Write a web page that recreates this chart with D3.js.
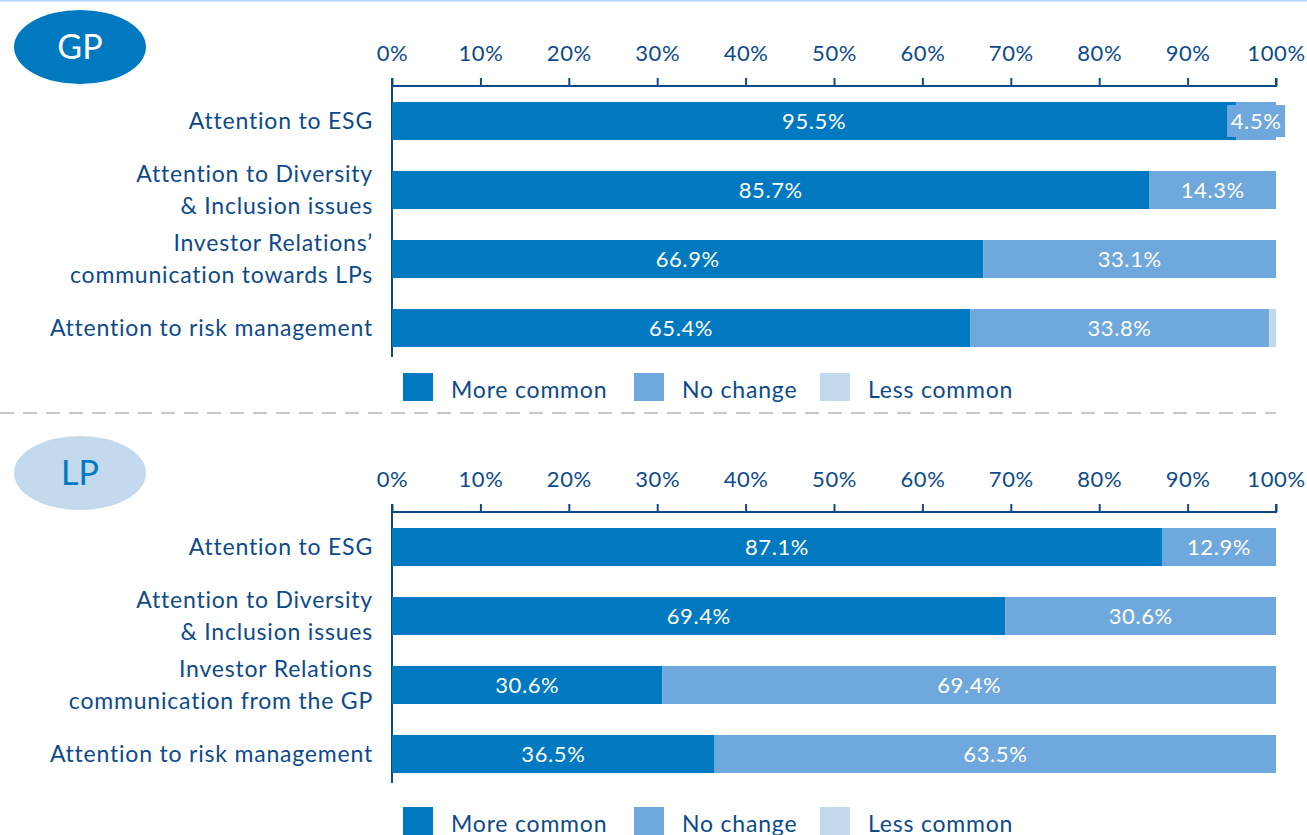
<!DOCTYPE html>
<html>
<head>
<meta charset="utf-8">
<script src="https://cdn.jsdelivr.net/npm/d3@7"></script>
<style>
  body { margin: 0; background: #fff; }
  text { font-family: Lato, "Open Sans", sans-serif; }
</style>
</head>
<body>
<svg id="chart" width="1307" height="835"></svg>
<script>
// data
var series = ["More common", "No change", "Less common"];
var colors = ["#0079c1", "#6fa8dc", "#c2d9ee"];
var ticks = [0, 10, 20, 30, 40, 50, 60, 70, 80, 90, 100];

var gpLabels = [
    ["Attention to ESG"],
    ["Attention to Diversity ", "& Inclusion issues"],
    ["Investor Relations’", "communication towards LPs"],
    ["Attention to risk management"]
];
var gpMore = [95.5, 85.7, 66.9, 65.4];
var gpSame = [4.5, 14.3, 33.1, 33.8];
var gpLess = [0, 0, 0, 0.8];

var lpLabels = [
    ["Attention to ESG"],
    ["Attention to Diversity", "& Inclusion issues"],
    ["Investor Relations ", "communication from the GP"],
    ["Attention to risk management"]
];
var lpMore = [87.1, 69.4, 30.6, 36.5];
var lpSame = [12.9, 30.6, 69.4, 63.5];
var lpLess = [0, 0, 0, 0];

var svg = d3.select("svg#chart");
var textColor = "#0d4a8a";
var ls = "0.8px";

var x = d3.scaleLinear().domain([0, 100]).range([392, 1276]);

// top line
svg.append("line").attr("x1", 0).attr("x2", 1307).attr("y1", 0.5).attr("y2", 0.5)
    .attr("stroke", "#a9d3ef").attr("stroke-width", 2);

// separator
svg.append("line").attr("x1", 0).attr("x2", 1276).attr("y1", 413).attr("y2", 413)
    .attr("stroke", "#c8c8c8").attr("stroke-width", 2).attr("stroke-dasharray", "14,9");

function panel(top, legendY, name, badgeFill, badgeText, labels, more, same, less) {
    var g = svg.append("g").attr("transform", "translate(0," + top + ")");

    g.append("ellipse").attr("cx", 80).attr("cy", 47).attr("rx", 66).attr("ry", 37)
        .attr("fill", badgeFill);
    g.append("text").attr("x", 80).attr("y", 59).attr("text-anchor", "middle")
        .attr("font-size", 34).attr("fill", badgeText).text(name);

    var axis = d3.axisTop(x).tickValues(ticks).tickSize(8).tickFormat(function(d) { return d + "%"; });
    var ax = g.append("g").attr("transform", "translate(0,86)").call(axis);
    ax.select(".domain").attr("stroke", textColor).attr("stroke-width", 2).attr("d", "M392,-8V0H1276V-8");
    ax.selectAll(".tick line").attr("stroke", textColor).attr("stroke-width", 2);
    ax.selectAll(".tick text").attr("font-size", 22).attr("fill", textColor)
        .attr("letter-spacing", "0.6px")
        .attr("font-family", "Lato, 'Open Sans', sans-serif").attr("dy", -14);

    // left axis line
    g.append("line").attr("x1", 392).attr("x2", 392).attr("y1", 86).attr("y2", 357)
        .attr("stroke", textColor).attr("stroke-width", 2);

    var y = d3.scaleBand().domain(d3.range(labels.length)).range([86, 363]).paddingInner(0.449).paddingOuter(0.232);

    var rows = labels.map(function(l, i) {
        return { i: i, label: l, vals: [more[i], same[i], less[i]] };
    });

    rows.forEach(function(r) {
        var y0 = y(r.i), h = y.bandwidth();
        var cum = 0;
        r.vals.forEach(function(v, k) {
            if (v > 0) {
                g.append("rect").attr("x", x(cum)).attr("y", y0).attr("width", x(cum + v) - x(cum))
                    .attr("height", h).attr("fill", colors[k]);
            }
            cum += v;
        });
        cum = 0;
        r.vals.forEach(function(v, k) {
            if (v >= 2) {
                var cx = (x(cum) + x(cum + v)) / 2;
                var t = v.toFixed(1) + "%";
                if (x(cum + v) - x(cum) < 60) {
                    g.append("rect").attr("x", cx - 29).attr("y", y0 + 3).attr("width", 58).attr("height", h - 6)
                        .attr("fill", colors[k]);
                }
                g.append("text").attr("x", cx).attr("y", y0 + h / 2 + 8).attr("text-anchor", "middle")
                    .attr("font-size", 22).attr("letter-spacing", "0.6px")
                    .attr("fill", "#fff").text(t);
            }
            cum += v;
        });
        var lines = r.label;
        var cy = y0 + h / 2;
        lines.forEach(function(line, j) {
            var ly = cy + 8 + (j - (lines.length - 1) / 2) * 32;
            g.append("text").attr("x", 373).attr("y", ly).attr("text-anchor", "end")
                .attr("font-size", 23).attr("letter-spacing", ls)
                .attr("fill", textColor).text(line);
        });
    });

    // legend
    var lx = [403, 634, 820];
    series.forEach(function(s, k) {
        g.append("rect").attr("x", lx[k]).attr("y", legendY).attr("width", 30).attr("height", 28).attr("fill", colors[k]);
        g.append("text").attr("x", lx[k] + 48).attr("y", legendY + 25).attr("font-size", 23)
            .attr("letter-spacing", ls).attr("fill", textColor).text(s);
    });
}

panel(0, 373, "GP", "#0079c1", "#ffffff", gpLabels, gpMore, gpSame, gpLess);
panel(426, 381, "LP", "#c2d9ee", "#0079c1", lpLabels, lpMore, lpSame, lpLess);
</script>
</body>
</html>
